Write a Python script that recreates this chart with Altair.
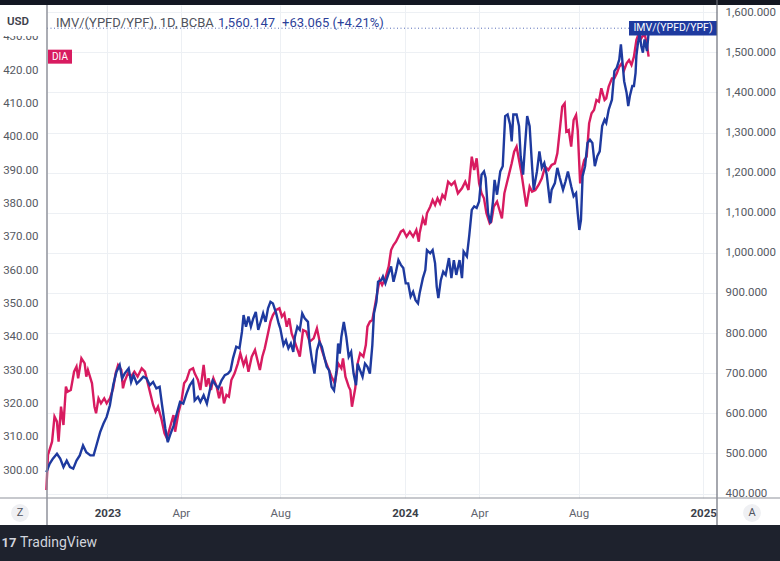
import altair as alt
import pandas as pd

# ---------------- data ----------------
dia_dates = [
    "2022-10-18", "2022-10-20", "2022-10-25", "2022-10-28", "2022-10-31", "2022-11-02", "2022-11-05",
    "2022-11-08", "2022-11-11", "2022-11-13", "2022-11-17", "2022-11-21", "2022-11-24", "2022-11-26",
    "2022-11-30", "2022-12-04", "2022-12-06", "2022-12-08", "2022-12-13", "2022-12-16", "2022-12-18",
    "2022-12-21", "2022-12-24", "2022-12-28", "2022-12-31", "2023-01-04", "2023-01-08", "2023-01-11",
    "2023-01-14", "2023-01-18", "2023-01-20", "2023-01-22", "2023-01-26", "2023-01-30", "2023-02-03",
    "2023-02-07", "2023-02-12", "2023-02-16", "2023-02-20", "2023-02-23", "2023-02-26", "2023-03-01",
    "2023-03-04", "2023-03-08", "2023-03-12", "2023-03-15", "2023-03-19", "2023-03-23", "2023-03-25",
    "2023-03-29", "2023-04-02", "2023-04-05", "2023-04-08", "2023-04-12", "2023-04-16", "2023-04-18",
    "2023-04-22", "2023-04-25", "2023-04-29", "2023-05-02", "2023-05-05", "2023-05-08", "2023-05-11",
    "2023-05-15", "2023-05-18", "2023-05-21", "2023-05-24", "2023-05-27", "2023-05-30", "2023-06-02",
    "2023-06-06", "2023-06-10", "2023-06-13", "2023-06-17", "2023-06-20", "2023-06-23", "2023-06-27",
    "2023-07-01", "2023-07-04", "2023-07-07", "2023-07-10", "2023-07-13", "2023-07-17", "2023-07-20",
    "2023-07-23", "2023-07-27", "2023-07-31", "2023-08-03", "2023-08-06", "2023-08-09", "2023-08-12",
    "2023-08-15", "2023-08-18", "2023-08-23", "2023-08-25", "2023-08-29", "2023-09-02", "2023-09-06",
    "2023-09-11", "2023-09-15", "2023-09-18", "2023-09-21", "2023-09-25", "2023-09-29", "2023-10-03",
    "2023-10-07", "2023-10-11", "2023-10-15", "2023-10-17", "2023-10-20", "2023-10-24", "2023-10-26",
    "2023-10-28", "2023-11-01", "2023-11-04", "2023-11-07", "2023-11-11", "2023-11-14", "2023-11-16",
    "2023-11-19", "2023-11-22", "2023-11-25", "2023-11-29", "2023-12-01", "2023-12-04", "2023-12-08",
    "2023-12-12", "2023-12-15", "2023-12-18", "2023-12-21", "2023-12-24", "2023-12-27", "2023-12-30",
    "2024-01-03", "2024-01-07", "2024-01-11", "2024-01-15", "2024-01-18", "2024-01-19", "2024-01-23",
    "2024-01-26", "2024-01-28", "2024-02-01", "2024-02-04", "2024-02-07", "2024-02-10", "2024-02-13",
    "2024-02-16", "2024-02-19", "2024-02-23", "2024-02-27", "2024-03-02", "2024-03-06", "2024-03-11",
    "2024-03-15", "2024-03-19", "2024-03-23", "2024-03-26", "2024-03-29", "2024-04-01", "2024-04-04",
    "2024-04-07", "2024-04-10", "2024-04-14", "2024-04-16", "2024-04-19", "2024-04-23", "2024-04-26",
    "2024-04-29", "2024-05-02", "2024-05-05", "2024-05-08", "2024-05-11", "2024-05-14", "2024-05-17",
    "2024-05-20", "2024-05-23", "2024-05-26", "2024-05-29", "2024-06-02", "2024-06-05", "2024-06-09",
    "2024-06-13", "2024-06-17", "2024-06-21", "2024-06-25", "2024-06-29", "2024-07-03", "2024-07-06",
    "2024-07-09", "2024-07-12", "2024-07-15", "2024-07-17", "2024-07-20", "2024-07-23", "2024-07-26",
    "2024-07-29", "2024-07-31", "2024-08-03", "2024-08-06", "2024-08-08", "2024-08-11", "2024-08-14",
    "2024-08-17", "2024-08-20", "2024-08-23", "2024-08-26", "2024-08-29", "2024-09-02", "2024-09-04",
    "2024-09-07", "2024-09-11", "2024-09-14", "2024-09-17", "2024-09-20", "2024-09-23", "2024-09-26",
    "2024-09-29", "2024-10-02", "2024-10-05", "2024-10-08", "2024-10-11", "2024-10-14", "2024-10-17",
    "2024-10-21", "2024-10-24", "2024-10-26",
]
dia_values = [
    294, 304.5, 308.5, 316, 314.5, 308.5, 319,
    313.5, 325, 323.5, 324, 329.5, 331, 327.5,
    333.5, 332, 328, 330, 326, 319, 317,
    321.5, 320, 321.5, 320, 321.5, 324.5, 329,
    331.5, 330, 324.5, 326.5, 329, 328, 329.5,
    328, 330.5, 329.5, 325.5, 322.5, 319.5, 317.5,
    319, 315.5, 311, 309.5, 313, 316.5, 311.5,
    317, 321, 326, 327, 330, 330.5, 329,
    327, 324, 331.5, 325, 327.5, 324, 327.5,
    325, 321.5, 325, 320, 322.5, 322, 327,
    329, 332, 335, 331.5, 333.5, 329.5, 334,
    336, 333, 330, 334, 336.5, 341, 344.5,
    346.5, 348, 348.5, 346, 347, 343, 345.5,
    341, 339, 335.5, 334, 342, 341.5, 338.5,
    339.5, 342.5, 339, 336, 333, 330.5, 328,
    326, 332, 330.5, 333.5, 328, 325, 324,
    319, 324.5, 332, 335, 334, 337.5, 343,
    344.5, 345, 349, 354.5, 357, 355.5, 357.5,
    361, 366, 367.5, 368.5, 370, 371.5, 372,
    370, 371.5, 370, 372, 368.5, 371, 375.5,
    373.5, 377, 379, 381, 379.5, 381.5, 380,
    382.5, 381.5, 386.5, 385.5, 386.5, 383, 384.5,
    386.5, 384, 394, 390, 393.5, 386, 383,
    381.5, 377, 374, 374.5, 379, 380.5, 378,
    375.5, 383, 386, 389, 392, 395.5, 397,
    393, 389, 384, 379, 385, 383.5, 384,
    385.5, 387.5, 391, 390, 391.5, 392, 395,
    402, 409, 410, 401.5, 402, 397, 405,
    406.5, 402, 386, 391, 393, 394, 404,
    407, 408, 411, 410.5, 414.5, 411, 411.5,
    415, 417.5, 417.5, 419, 421, 422, 420,
    422, 423, 421.5, 424, 429, 431, 429.5,
    431, 427.5, 424,
]

imv_dates = [
    "2022-10-18", "2022-10-22", "2022-10-26", "2022-10-31", "2022-11-04", "2022-11-08", "2022-11-12",
    "2022-11-16", "2022-11-20", "2022-11-24", "2022-11-28", "2022-12-02", "2022-12-06", "2022-12-11",
    "2022-12-15", "2022-12-19", "2022-12-23", "2022-12-27", "2022-12-31", "2023-01-04", "2023-01-08",
    "2023-01-12", "2023-01-16", "2023-01-19", "2023-01-22", "2023-01-27", "2023-01-30", "2023-02-02",
    "2023-02-06", "2023-02-10", "2023-02-14", "2023-02-18", "2023-02-22", "2023-02-26", "2023-03-02",
    "2023-03-06", "2023-03-09", "2023-03-13", "2023-03-16", "2023-03-19", "2023-03-23", "2023-03-27",
    "2023-03-31", "2023-04-04", "2023-04-08", "2023-04-12", "2023-04-16", "2023-04-18", "2023-04-22",
    "2023-04-25", "2023-04-29", "2023-05-03", "2023-05-07", "2023-05-10", "2023-05-14", "2023-05-17",
    "2023-05-21", "2023-05-25", "2023-05-29", "2023-06-01", "2023-06-04", "2023-06-08", "2023-06-12",
    "2023-06-15", "2023-06-17", "2023-06-20", "2023-06-23", "2023-06-26", "2023-06-29", "2023-07-02",
    "2023-07-05", "2023-07-08", "2023-07-11", "2023-07-14", "2023-07-17", "2023-07-20", "2023-07-23",
    "2023-07-27", "2023-07-30", "2023-08-01", "2023-08-05", "2023-08-08", "2023-08-11", "2023-08-14",
    "2023-08-17", "2023-08-19", "2023-08-22", "2023-08-25", "2023-08-28", "2023-08-31", "2023-09-04",
    "2023-09-06", "2023-09-09", "2023-09-12", "2023-09-15", "2023-09-18", "2023-09-21", "2023-09-24",
    "2023-09-27", "2023-09-30", "2023-10-03", "2023-10-06", "2023-10-09", "2023-10-11", "2023-10-13",
    "2023-10-15", "2023-10-18", "2023-10-21", "2023-10-24", "2023-10-27", "2023-10-30", "2023-11-02",
    "2023-11-04", "2023-11-07", "2023-11-10", "2023-11-13", "2023-11-16", "2023-11-19", "2023-11-22",
    "2023-11-24", "2023-11-27", "2023-11-29", "2023-12-03", "2023-12-05", "2023-12-08", "2023-12-12",
    "2023-12-15", "2023-12-18", "2023-12-21", "2023-12-24", "2023-12-27", "2023-12-30", "2024-01-02",
    "2024-01-05", "2024-01-08", "2024-01-11", "2024-01-14", "2024-01-17", "2024-01-19", "2024-01-23",
    "2024-01-26", "2024-01-28", "2024-02-01", "2024-02-04", "2024-02-07", "2024-02-09", "2024-02-11",
    "2024-02-14", "2024-02-17", "2024-02-20", "2024-02-24", "2024-02-27", "2024-03-01", "2024-03-04",
    "2024-03-08", "2024-03-11", "2024-03-13", "2024-03-17", "2024-03-20", "2024-03-23", "2024-03-26",
    "2024-03-29", "2024-04-01", "2024-04-04", "2024-04-07", "2024-04-09", "2024-04-12", "2024-04-15",
    "2024-04-18", "2024-04-20", "2024-04-23", "2024-04-27", "2024-04-30", "2024-05-03", "2024-05-06",
    "2024-05-09", "2024-05-11", "2024-05-13", "2024-05-17", "2024-05-20", "2024-05-22", "2024-05-25",
    "2024-05-27", "2024-05-30", "2024-06-02", "2024-06-05", "2024-06-07", "2024-06-11", "2024-06-14",
    "2024-06-17", "2024-06-20", "2024-06-23", "2024-06-27", "2024-06-29", "2024-07-03", "2024-07-06",
    "2024-07-09", "2024-07-13", "2024-07-16", "2024-07-19", "2024-07-23", "2024-07-26", "2024-07-29",
    "2024-07-31", "2024-08-02", "2024-08-04", "2024-08-06", "2024-08-09", "2024-08-12", "2024-08-15",
    "2024-08-18", "2024-08-21", "2024-08-24", "2024-08-27", "2024-08-30", "2024-09-02", "2024-09-04",
    "2024-09-07", "2024-09-11", "2024-09-14", "2024-09-17", "2024-09-20", "2024-09-22", "2024-09-24",
    "2024-09-26", "2024-09-29", "2024-10-01", "2024-10-03", "2024-10-06", "2024-10-08", "2024-10-10",
    "2024-10-11", "2024-10-13", "2024-10-15", "2024-10-17", "2024-10-19", "2024-10-21", "2024-10-24",
    "2024-10-26", "2024-10-27",
]
imv_values = [
    453, 474, 487, 499, 487, 466, 482,
    466, 462, 482, 495, 520, 503, 495,
    495, 524, 553, 574, 591, 620, 670,
    703, 720, 687, 699, 712, 678, 695,
    674, 682, 691, 687, 670, 678, 662,
    666, 620, 562, 528, 547, 568, 599,
    628, 624, 649, 670, 682, 632, 641,
    628, 645, 624, 662, 682, 670, 662,
    682, 695, 699, 707, 737, 766, 762,
    803, 845, 816, 841, 816, 837, 853,
    808, 828, 849, 828, 862, 878, 874,
    849, 824, 812, 770, 782, 762, 774,
    753, 791, 816, 808, 849, 837, 828,
    774, 732, 699, 757, 778, 766, 741,
    716, 707, 666, 657, 707, 774, 749,
    791, 828, 791, 741, 753, 699, 670,
    724, 707, 691, 724, 716, 699, 770,
    849, 878, 928, 932, 941, 924, 949,
    966, 928, 953, 982, 970, 962, 924,
    924, 891, 903, 882, 874, 899, 937,
    957, 1007, 999, 1007, 974, 916, 887,
    932, 953, 945, 987, 937, 982, 945,
    982, 937, 1003, 991, 1045, 1107, 1116,
    1112, 1128, 1195, 1203, 1187, 1099, 1074,
    1128, 1182, 1145, 1203, 1216, 1341, 1345,
    1320, 1278, 1345, 1345, 1316, 1241, 1195,
    1257, 1341, 1316, 1216, 1157, 1203, 1253,
    1212, 1224, 1195, 1124, 1157, 1174, 1212,
    1187, 1157, 1178, 1203, 1166, 1141, 1149,
    1099, 1057, 1082, 1191, 1216, 1274, 1282,
    1274, 1216, 1241, 1253, 1316, 1332, 1324,
    1357, 1382, 1453, 1462, 1482, 1520, 1474,
    1428, 1399, 1366, 1391, 1416, 1416, 1449,
    1491, 1524, 1545, 1516, 1499, 1532, 1503,
    1549, 1560.147,
]

left_ticks = [300, 310, 320, 330, 340, 350, 360, 370, 380, 390, 400, 410, 420, 430]
right_ticks = [400, 500, 600, 700, 800, 900, 1000, 1100, 1200, 1300, 1400, 1500, 1600]
x_ticks = [(2023, 1), (2023, 4), (2023, 8), (2024, 1), (2024, 4), (2024, 8), (2025, 1)]

symbol_name = "IMV/(YPFD/YPF)"
header_title = "IMV/(YPFD/YPF), 1D, BCBA"
header_change = "+63.065 (+4.21%)"
dia_name = "DIA"

# ---------------- styling ----------------
FONT = "Roboto"
PINK = "#d81b60"
BLUE = "#1e3a9f"
GRID = "#edf0f4"
AXTXT = "#555962"
SEP = "#8f929b"

dia = pd.DataFrame({"date": dia_dates, "value": dia_values})
imv = pd.DataFrame({"date": imv_dates, "value": imv_values})
dia_last = dia.tail(1)
imv_last = imv.tail(1)
one = pd.DataFrame({"k": [0]})

x_scale = alt.Scale(
    type="utc",
    nice=False,
    domain=[
        alt.DateTime(year=2022, month=10, date=18, hours=19, utc=True),
        alt.DateTime(year=2025, month=1, date=17, hours=22, utc=True),
    ],
)
DIA_DOMAIN = [291.6, 439.5]
IMV_DOMAIN = [388.8, 1618]


def dia_y(axis=None):
    return alt.Y("value:Q", scale=alt.Scale(domain=DIA_DOMAIN, nice=False, zero=False), axis=axis)


def imv_y(axis=None):
    return alt.Y("value:Q", scale=alt.Scale(domain=IMV_DOMAIN, nice=False, zero=False), axis=axis)


is_year = "utcmonth(datum.value) == 0"
x_axis = alt.Axis(
    values=[alt.DateTime(year=y, month=m, date=1, utc=True) for y, m in x_ticks],
    labelExpr=f"{is_year} ? utcFormat(datum.value, '%Y') : utcFormat(datum.value, '%b')",
    labelFontWeight={"condition": {"test": is_year, "value": "bold"}, "value": "normal"},
    labelColor={"condition": {"test": is_year, "value": "#3b3f4a"}, "value": "#60636d"},
    labelFont=FONT,
    labelFontSize=11.5,
    labelPadding=9,
    labelFlush=False,
    labelOverlap=False,
    grid=True,
    gridColor=GRID,
    gridWidth=1,
    domain=False,
    ticks=False,
    title=None,
)
X = alt.X("date:T", scale=x_scale, axis=x_axis)

left_axis = alt.Axis(
    orient="left", values=left_ticks, format=".2f", grid=False, domain=False, ticks=False,
    labelPadding=9, labelFont=FONT, labelFontSize=11.5, labelColor=AXTXT, title=None,
    labelOverlap=False,
)
right_axis = alt.Axis(
    orient="right", values=right_ticks, format=",.3f", grid=True, gridColor=GRID, gridWidth=1,
    domain=False, ticks=False, labelPadding=8, labelFont=FONT, labelFontSize=11.5,
    labelColor=AXTXT, title=None, labelOverlap=False,
)

# ---------------- series ----------------
dia_line = alt.Chart(dia).mark_line(color=PINK, strokeWidth=2.4).encode(x=X, y=dia_y(left_axis))
imv_line = alt.Chart(imv).mark_line(color=BLUE, strokeWidth=2.4).encode(x=X, y=imv_y(right_axis))

dia_box = alt.Chart(dia_last).mark_point(
    shape="M-1.714,-1L1.714,-1L1.714,1L-1.714,1Z", size=196, filled=True, color=PINK, opacity=1, strokeWidth=0
).encode(x=alt.value(13), y=dia_y())
dia_text = alt.Chart(dia_last).mark_text(
    text=dia_name, color="white", font=FONT, fontSize=10, align="center", baseline="middle"
).encode(x=alt.value(13), y=dia_y())

imv_rule = alt.Chart(imv_last).mark_rule(color=BLUE, strokeWidth=1, strokeDash=[1, 2.5], opacity=0.75).encode(
    x=alt.value(0), x2=alt.value(585), y=imv_y()
)
imv_box = alt.Chart(imv_last).mark_point(
    shape="M-6.07,-1L6.07,-1L6.07,1L-6.07,1Z", size=210, filled=True, color=BLUE, opacity=1, strokeWidth=0
).encode(x=alt.value(626), y=imv_y())
imv_text = alt.Chart(imv_last).mark_text(
    text=symbol_name, color="white", font=FONT, fontSize=10.5, align="center", baseline="middle"
).encode(x=alt.value(626), y=imv_y())

# ---------------- decorations ----------------
base = alt.Chart(one)
usd_cover = base.mark_rect(color="white").encode(
    x=alt.value(-47), x2=alt.value(-1), y=alt.value(0), y2=alt.value(31)
)
usd_text = base.mark_text(
    text="USD", font=FONT, fontSize=11.5, fontWeight=600, color="#3d414b", align="center", baseline="middle"
).encode(x=alt.value(-29), y=alt.value(17))
top_strip = base.mark_rect(color="#131722").encode(
    x=alt.value(-47), x2=alt.value(733), y=alt.value(-5), y2=alt.value(0)
)
bottom_band = base.mark_rect(color="#1e222d").encode(
    x=alt.value(-47), x2=alt.value(733), y=alt.value(520), y2=alt.value(556)
)
sep_left = base.mark_rule(color=SEP, strokeWidth=1.5).encode(
    x=alt.value(0), y=alt.value(0), y2=alt.value(520)
)
sep_right = base.mark_rule(color="#6a6d78", strokeWidth=1.2).encode(
    x=alt.value(670), y=alt.value(-5), y2=alt.value(520)
)
sep_bottom = base.mark_rule(color=SEP, strokeWidth=1).encode(
    x=alt.value(-47), x2=alt.value(733), y=alt.value(493)
)
head1 = base.mark_text(
    text=header_title, font=FONT, fontSize=13, color="#4f535e", align="left", baseline="middle"
).encode(x=alt.value(9), y=alt.value(17.5))
head2 = base.mark_text(
    text=f"{imv_values[-1]:,.3f}", font=FONT, fontSize=13, color="#2b3f9a", align="left", baseline="middle"
).encode(x=alt.value(171), y=alt.value(17.5))
head3 = base.mark_text(
    text=header_change, font=FONT, fontSize=13, color="#2b3f9a", align="left", baseline="middle"
).encode(x=alt.value(235), y=alt.value(17.5))
circ_z = base.mark_point(shape="circle", size=320, filled=True, color="#eff0f3", opacity=1, strokeWidth=0).encode(
    x=alt.value(-27), y=alt.value(508)
)
circ_a = base.mark_point(shape="circle", size=320, filled=True, color="#eff0f3", opacity=1, strokeWidth=0).encode(
    x=alt.value(705), y=alt.value(508)
)
txt_z = base.mark_text(text="Z", font=FONT, fontSize=11, color="#50535e", align="center", baseline="middle").encode(
    x=alt.value(-27), y=alt.value(508)
)
txt_a = base.mark_text(text="A", font=FONT, fontSize=11, color="#50535e", align="center", baseline="middle").encode(
    x=alt.value(705), y=alt.value(508)
)
logo = base.mark_text(text="17", font=FONT, fontSize=13, fontWeight="bold", color="#d1d4dc", align="center",
                      baseline="middle").encode(x=alt.value(-38), y=alt.value(538))
brand = base.mark_text(text="TradingView", font=FONT, fontSize=14, color="#d1d4dc", align="left",
                       baseline="middle").encode(x=alt.value(-27), y=alt.value(538))

chart = (
    alt.layer(
        dia_line, imv_line, dia_box, dia_text, imv_rule, imv_box, imv_text,
        usd_cover, usd_text, top_strip, bottom_band, sep_left, sep_right, sep_bottom,
        head1, head2, head3, circ_z, circ_a, txt_z, txt_a, logo, brand,
    )
    .resolve_scale(y="independent")
    .properties(
        width=670,
        height=493,
        autosize=alt.AutoSizeParams(type="none"),
        padding={"left": 47, "top": 5, "right": 63, "bottom": 63},
        background="white",
    )
    .configure_view(stroke=None)
)

chart.save("out.html", embed_options={"renderer": "svg", "actions": False})
